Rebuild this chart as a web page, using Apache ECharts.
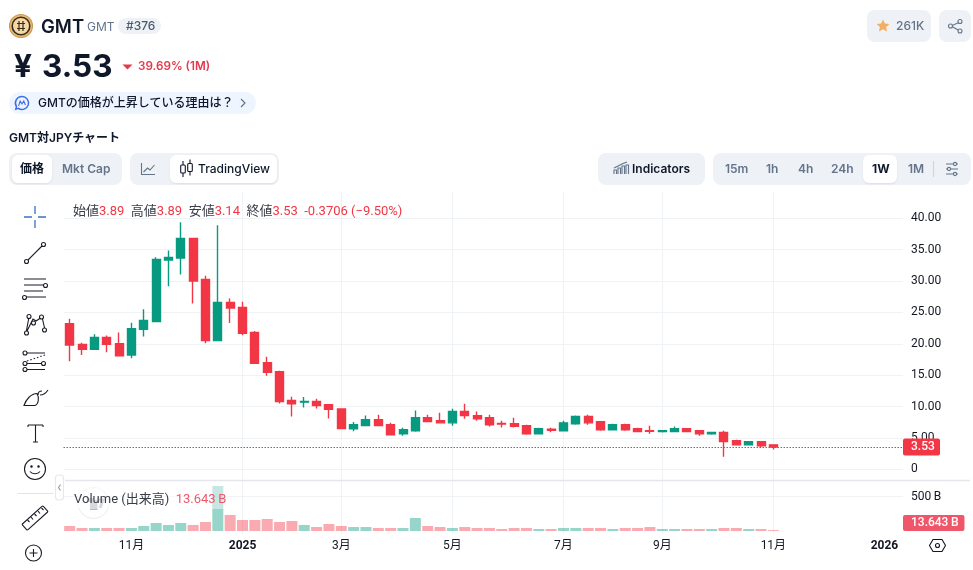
<!DOCTYPE html>
<html lang="ja"><head><meta charset="utf-8">
<script src="https://cdn.jsdelivr.net/npm/echarts@6/dist/echarts.min.js"></script>
<style>
html{background:#fff}
html,body{margin:0;padding:0;width:973px;height:570px;overflow:hidden}
body{font-family:Inter,"Noto Sans CJK JP",sans-serif;color:#0f172a;position:relative;isolation:isolate}
#chart{position:absolute;left:0;top:0;width:973px;height:570px}
.a{position:absolute;white-space:nowrap;line-height:1}
.box{position:absolute;background:#eef1f5;border-radius:8px}
.on{position:absolute;background:#fff;border-radius:6px;box-shadow:0 1px 2px rgba(15,23,42,.08)}
.g{color:#64748b}.b{font-weight:600}
.leg{font-family:Roboto,"Noto Sans CJK JP",sans-serif;font-size:13px;color:#3a3d47}
.leg i{font-style:normal;color:#f23645}
svg{position:absolute;overflow:visible}
</style></head><body>
<div id="chart"></div>

<svg style="left:0;top:0" width="973" height="570" fill="none" stroke="#1a1d26" stroke-width="1.1">
 <!-- pane separator -->
 <path d="M65 480.500H970" stroke="#e4e6ec" stroke-width="1.500"/>
 <!-- coin logo -->
 <circle cx="21" cy="26" r="11.5" fill="#e9b873" stroke="#c99a55"/><circle cx="21" cy="26" r="8.8" fill="#f3d9a8" stroke="#3b2c1a" stroke-width="1.6"/>
 <path d="M17 23.5h8M17 28.5h8M19 21v10M23 21v10" stroke="#3b2c1a" stroke-width="1.2"/>
 <!-- ticks in price row -->
 <path d="M122.5 64.5h10l-5 5z" fill="#e5394b" stroke="none"/>
 <!-- AI pill icon -->
 <path d="M22 96.5a6.5 6.5 0 1 1-3.6 11.9l-2.6 .8.7-2.6A6.5 6.5 0 0 1 22 96.5z" stroke="#3b6ee8" stroke-width="1.5"/><path d="M18.6 106l1.6-5 1.8 3 1.8-3 1.6 4" stroke="#3b6ee8"/>
 <path d="M241 99l4 4-4 4" stroke="#64748b" stroke-width="1.2"/>
 <!-- line toggle -->
 <path d="M141.500 163v11.500h13.500M143.500 172l4-4 2.500 2 4.500-5" stroke="#64748b"/>
 <!-- candles toggle -->
 <path d="M183 161v4M183 173v4M190 159.500v4M190 171.500v4" stroke="#0f172a"/><rect x="180.700" y="165" width="4.600" height="8" rx="1" stroke="#0f172a"/><rect x="187.700" y="163.500" width="4.600" height="8" rx="1" stroke="#0f172a"/>
 <!-- indicators icon -->
 <path d="M614 174v-4h2.500v4M618 174v-6h2.500v6M622 174v-8h2.500v8M626 174v-9h2.500v9M614 168l5-2.500 4-2 4-1.500" stroke="#64748b"/>
 <!-- sliders -->
 <path d="M946 164h12M946 169h12M946 174h12" stroke="#64748b"/><circle cx="955" cy="164" r="1.600" fill="#eef1f5" stroke="#64748b"/><circle cx="949" cy="169" r="1.600" fill="#eef1f5" stroke="#64748b"/><circle cx="955" cy="174" r="1.600" fill="#eef1f5" stroke="#64748b"/>
 <path d="M933.500 161v16" stroke="#cbd5e1"/>
 <!-- star + share -->
 <path d="M883 19.500l1.900 4.100 4.500.5-3.300 3 .9 4.400-4-2.300-4 2.300.9-4.400-3.300-3 4.500-.5z" fill="#f4ae62" stroke="none"/>
 <path d="M960 22l-9 4 9 5" stroke="#64748b"/><circle cx="960" cy="21.500" r="2" fill="#eef1f5" stroke="#64748b"/><circle cx="950.500" cy="26" r="2" fill="#eef1f5" stroke="#64748b"/><circle cx="960" cy="31" r="2" fill="#eef1f5" stroke="#64748b"/>
 <!-- drawing toolbar -->
 <path d="M35 206v8M35 220v8M24 217h8M38 217h8" stroke="#3872c4" stroke-width="1.300"/>
 <circle cx="43.500" cy="244.500" r="2" /><circle cx="26.500" cy="261.500" r="2"/><path d="M28 260l14-14"/>
 <path d="M24 279h22M24 285h22M24 291h19M24 297h22" /><circle cx="45.500" cy="285.500" r="2" fill="#fff"/><circle cx="24.500" cy="297.500" r="2" fill="#fff"/>
 <path d="M29 317l-3 16 7-14 3 2 6-4 3 13" /><circle cx="29" cy="316.500" r="2" fill="#fff"/><circle cx="41.500" cy="317" r="2" fill="#fff"/><circle cx="33.500" cy="323" r="2" fill="#fff"/><circle cx="26.500" cy="333" r="2" fill="#fff"/><circle cx="44.500" cy="330" r="2" fill="#fff"/>
 <path d="M27 353h18M27 363.500h16M27 369.500h18"/><path d="M27 361l18-6" stroke-dasharray="1.500 2"/><circle cx="25" cy="353" r="2" fill="#fff"/><circle cx="25" cy="363.500" r="2" fill="#fff"/><circle cx="43.500" cy="363.500" r="2" fill="#fff"/><circle cx="25" cy="369.500" r="2" fill="#fff"/>
 <path d="M24 405.500h11c3-1 5-7 2-12-6 0-11 6-13 12zM38 395c0-3 2-4 4-4M40 395c3 0 6-2 8-5"/>
 <path d="M28 425h15M35.500 425v17M33 442h5M28 425v2M43 425v2"/>
 <circle cx="35" cy="469" r="10.500"/><circle cx="31.500" cy="466.500" r=".7" fill="#1a1d26"/><circle cx="38.500" cy="466.500" r=".7" fill="#1a1d26"/><path d="M30 471.500c2 3 8 3 10 0"/>
 <path d="M17.500 493.500h36" stroke="#e0e3eb"/>
 <rect x="-14" y="-4" width="28" height="8" rx="1" transform="translate(35 518) rotate(-42)"/><path d="M27.500 520l2 2M31 517l2 2.500M34.500 514l2 2M38 511l2 2.500M41.500 508l2 2"/>
 <circle cx="33.500" cy="553" r="8"/><path d="M33.500 549v8M29.500 553h8"/>
 <!-- collapse tab -->
 <rect x="55.500" y="475" width="8" height="25" rx="3" fill="#fff" stroke="#e6e8ee"/><path d="M60.500 484.500l-2 3 2 3" stroke="#9598a1"/>
 <!-- tv logo -->
 <circle cx="93.500" cy="503" r="15.500" fill="#fff" stroke="#eceef2"/><path d="M87 500h5v8h3.500v-8" stroke="#b9bbc2" stroke-width="4" />
 <path d="M97 500h6l-3 8" stroke="#b9bbc2" stroke-width="3"/>
 <!-- settings hex -->
 <path d="M933 539.500h9l3.500 6-3.500 6h-9l-3.500-6z" stroke="#131722"/><circle cx="937.500" cy="545.500" r="2" stroke="#131722"/>
</svg>

<div class="a" style="left:41px;top:17px;font-size:18.500px;font-weight:600">GMT</div>
<div class="a g" style="left:87px;top:21px;font-size:12px">GMT</div>
<div class="box" style="left:118px;top:18px;width:43px;height:16px;border-radius:8px;z-index:-1"></div>
<div class="a" style="left:126px;top:20px;font-size:12px;font-weight:500;color:#4b5a70">#376</div>
<div class="a" style="left:14px;top:50px;font-size:31.500px;font-weight:700">¥</div>
<div class="a" style="left:42px;top:50px;font-size:31.500px;font-weight:700">3.53</div>
<div class="a" style="left:138px;top:61px;font-size:11.700px;font-weight:600;color:#e5394b">39.69% (1M)</div>
<div class="box" style="left:9px;top:92px;width:247px;height:22px;background:#eff5ff;border-radius:11px;z-index:-1"></div>
<div class="a" style="left:38px;top:97px;font-size:12px;font-weight:500">GMTの価格が上昇している理由は？</div>
<div class="a b" style="left:9px;top:132px;font-size:12px">GMT対JPYチャート</div>

<div class="box" style="left:9px;top:153px;width:113px;height:32px;z-index:-1"></div>
<div class="on" style="left:12px;top:155px;width:40px;height:28px;z-index:-1"></div>
<div class="a b" style="left:20px;top:163px;font-size:12px">価格</div>
<div class="a b g" style="left:62px;top:163px;font-size:12px">Mkt Cap</div>
<div class="box" style="left:130px;top:153px;width:149px;height:32px;z-index:-1"></div>
<div class="on" style="left:170px;top:155px;width:107px;height:28px;z-index:-1"></div>
<div class="a" style="left:198px;top:163px;font-size:12px;font-weight:500">TradingView</div>
<div class="box" style="left:598px;top:153px;width:107px;height:32px;z-index:-1"></div>
<div class="a b" style="left:632px;top:163px;font-size:12px">Indicators</div>
<div class="box" style="left:713px;top:153px;width:258px;height:32px;z-index:-1"></div>
<div class="on" style="left:863px;top:155px;width:34px;height:28px;z-index:-1"></div>
<div class="a b g" style="left:725px;top:163px;font-size:12px">15m</div>
<div class="a b g" style="left:766px;top:163px;font-size:12px">1h</div>
<div class="a b g" style="left:798px;top:163px;font-size:12px">4h</div>
<div class="a b g" style="left:831px;top:163px;font-size:12px">24h</div>
<div class="a" style="left:872px;top:163px;font-size:12px;font-weight:700">1W</div>
<div class="a b g" style="left:908px;top:163px;font-size:12px">1M</div>
<div class="box" style="left:867px;top:10px;width:64px;height:32px;z-index:-1"></div>
<div class="a g" style="left:896px;top:20px;font-size:12px;font-weight:500">261K</div>
<div class="box" style="left:939px;top:10px;width:32px;height:32px;z-index:-1"></div>

<div class="a leg" style="left:73px;top:204px">始値<i>3.89</i>&nbsp;&nbsp;高値<i>3.89</i>&nbsp;&nbsp;安値<i>3.14</i>&nbsp;&nbsp;終値<i>3.53</i>&nbsp;&nbsp;<i>-0.3706 (−9.50%)</i></div>
<div class="a" style="left:73px;top:486px;width:155px;height:23px;background:rgba(255,255,255,.45)"></div>
<div class="a leg" style="left:74px;top:492px">Volume (出来高)&nbsp;&nbsp;<i style="color:#f0566a">13.643&#8201;B</i></div>

<script>
const categories=["2024-09-30","2024-10-07","2024-10-14","2024-10-21","2024-10-28","2024-11-04","2024-11-11","2024-11-18","2024-11-25","2024-12-02","2024-12-09","2024-12-16","2024-12-23","2024-12-30","2025-01-06","2025-01-13","2025-01-20","2025-01-27","2025-02-03","2025-02-10","2025-02-17","2025-02-24","2025-03-03","2025-03-10","2025-03-17","2025-03-24","2025-03-31","2025-04-07","2025-04-14","2025-04-21","2025-04-28","2025-05-05","2025-05-12","2025-05-19","2025-05-26","2025-06-02","2025-06-09","2025-06-16","2025-06-23","2025-06-30","2025-07-07","2025-07-14","2025-07-21","2025-07-28","2025-08-04","2025-08-11","2025-08-18","2025-08-25","2025-09-01","2025-09-08","2025-09-15","2025-09-22","2025-09-29","2025-10-06","2025-10-13","2025-10-20","2025-10-27","2025-11-03","2025-11-10","2025-11-17","2025-11-24","2025-12-01","2025-12-08","2025-12-15","2025-12-22","2025-12-29","2026-01-05","2026-01-12"];
const tickDates=["2024-11-04","2025-01-06","2025-03-03","2025-05-05","2025-07-07","2025-09-01","2025-11-03","2026-01-05"];
const tickLabels=["11月","2025","3月","5月","7月","9月","11月","2026"];
const opens=[23.2,19.9,19.1,21.0,20.0,18.2,22.3,23.55,33.35,33.65,36.8,30.25,20.5,26.6,25.8,21.8,17.0,15.55,10.95,10.7,10.8,10.3,9.6,6.45,6.95,7.9,7.1,5.65,6.15,8.2,7.75,7.4,9.2,8.55,8.2,7.3,7.25,6.95,5.65,6.4,6.15,7.25,8.4,7.6,6.3,7.1,6.45,6.15,6.0,6.0,6.45,6.15,5.65,5.85,4.55,3.9,4.4,3.89];
const highs=[24.0,20.15,21.5,21.3,21.8,23.35,25.5,33.8,34.85,39.35,36.8,30.85,38.9,27.2,26.7,22.05,17.95,15.7,11.55,11.5,11.25,10.3,9.6,7.55,8.55,8.7,7.4,6.6,9.35,8.7,9.0,9.65,10.45,9.2,8.7,7.75,8.2,7.1,6.6,6.6,7.75,8.55,8.7,7.6,7.25,7.25,6.6,6.95,6.2,6.8,6.5,6.15,6.0,6.15,4.7,4.4,4.4,3.89];
const lows=[17.2,18.2,19.0,18.65,18.0,17.7,21.15,23.45,29.15,31.05,26.4,20.1,20.5,23.3,21.35,16.9,14.9,10.5,8.4,9.85,9.7,8.1,6.5,6.05,6.95,6.95,5.5,5.35,6.0,7.55,7.4,6.95,8.05,7.75,6.8,6.65,6.65,5.5,5.65,5.9,6.15,7.1,7.1,6.15,6.3,6.15,6.0,5.65,5.85,6.0,6.0,5.35,5.5,2.0,3.9,3.9,3.45,3.14];
const closes=[19.8,19.1,21.0,19.9,18.1,22.4,23.7,33.45,33.75,36.8,30.0,20.5,26.6,25.7,21.65,16.9,15.45,10.8,10.45,10.8,10.15,9.55,6.5,7.1,7.9,6.95,5.5,6.3,8.2,7.6,7.4,9.2,8.55,8.05,7.1,7.2,6.85,5.65,6.45,6.2,7.4,8.4,7.4,6.3,7.1,6.3,6.0,6.05,6.15,6.45,6.0,5.65,5.85,4.4,3.9,4.4,3.75,3.53];
const volumes=[73,44,44,44,44,44,73,117,88,117,88,131,656,234,160,160,175,131,146,88,58,102,73,58,58,44,44,44,190,73,58,44,58,44,44,29,44,44,29,29,44,44,44,44,29,44,44,58,29,29,29,29,29,44,44,29,29,13.643];
const lastPrice=3.53, lastVolume=13.643;

const UP='#089981',DOWN='#f23645',GRID='#f0f3f6',AXISFONT='Roboto,"Noto Sans CJK JP",sans-serif';
const isTick=(i,v)=>tickDates.includes(v);
const candle=opens.map((o,i)=>[o,closes[i],lows[i],highs[i]]);
const volBars=volumes.map((v,i)=>({value:v,itemStyle:{color:closes[i]>=opens[i]?'rgba(8,153,129,.42)':'rgba(242,54,69,.42)'}}));
const L=63.5,W=839.5;
const chart=echarts.init(document.getElementById('chart'),null,{renderer:'canvas',width:973,height:570});
chart.setOption({
 animation:false,
 grid:[
  {left:L,width:W,top:186.9,height:313.75},
  {left:L,width:W,top:481,height:50},
  {left:L,width:W,top:192,height:342}
 ],
 xAxis:[
  {gridIndex:0,type:'category',data:categories,show:false},
  {gridIndex:1,type:'category',data:categories,show:false},
  {gridIndex:2,type:'category',data:categories,axisLine:{show:false},axisTick:{show:false},
   axisLabel:{interval:isTick,margin:6,fontFamily:AXISFONT,fontSize:12,color:'#131722',
     formatter:v=>{const i=tickDates.indexOf(v);if(i<0)return '';const t=tickLabels[i];return /^\d{4}$/.test(t)?'{b|'+t+'}':t;},
     rich:{b:{fontWeight:'bold',fontFamily:AXISFONT,fontSize:12,color:'#131722'}}},
   splitLine:{show:true,interval:isTick,alignWithLabel:true,showMinLine:false,showMaxLine:false,lineStyle:{color:GRID,width:1}}}
 ],
 yAxis:[
  {gridIndex:0,type:'value',position:'right',min:-5,max:45,interval:5,axisLine:{show:false},axisTick:{show:false},
   axisLabel:{margin:8,padding:[2,0,0,0],fontFamily:AXISFONT,fontSize:12,color:'#131722',showMinLabel:false,showMaxLabel:false,
     formatter:v=>v===0?'0':v.toFixed(2)},
   splitLine:{show:true,showMinLine:false,showMaxLine:false,lineStyle:{color:GRID,width:1}}},
  {gridIndex:1,type:'value',position:'right',min:0,max:729,interval:500,axisLine:{show:false},axisTick:{show:false},
   axisLabel:{margin:8,padding:[2,0,0,0],fontFamily:AXISFONT,fontSize:12,color:'#131722',showMinLabel:false,showMaxLabel:false,formatter:v=>v+'\u2009B'},
   splitLine:{show:true,showMinLine:false,showMaxLine:false,lineStyle:{color:GRID,width:1}}},
  {gridIndex:2,type:'value',show:false,min:0,max:1}
 ],
 series:[
  {type:'line',xAxisIndex:2,yAxisIndex:2,data:[],silent:true},
  {type:'candlestick',xAxisIndex:0,yAxisIndex:0,data:candle,barWidth:8.5,
   itemStyle:{color:UP,color0:DOWN,borderColor:UP,borderColor0:DOWN,borderWidth:1.4},
   markLine:{symbol:'none',silent:true,animation:false,data:[{yAxis:lastPrice}],
     lineStyle:{color:DOWN,type:[1.5,1.5],width:1},
     label:{show:true,position:'end',distance:0,formatter:()=>lastPrice.toFixed(2),color:'#fff',fontFamily:AXISFONT,fontWeight:500,fontSize:12,
        backgroundColor:DOWN,padding:[3,8,2,8],width:21,lineHeight:12,borderRadius:2}}},
  {type:'bar',xAxisIndex:1,yAxisIndex:1,data:volBars,barWidth:11,
   markLine:{symbol:'none',silent:true,animation:false,data:[{yAxis:lastVolume}],
     lineStyle:{color:'rgba(0,0,0,0)'},
     label:{show:true,position:'end',distance:0,offset:[0,-7],formatter:()=>lastVolume.toFixed(3)+'\u2009B',color:'#fff',fontFamily:AXISFONT,fontWeight:500,fontSize:12,
        backgroundColor:'#f0566a',padding:[2,6,2,8],lineHeight:12,borderRadius:2}}}
 ]
});
</script>
</body></html>
